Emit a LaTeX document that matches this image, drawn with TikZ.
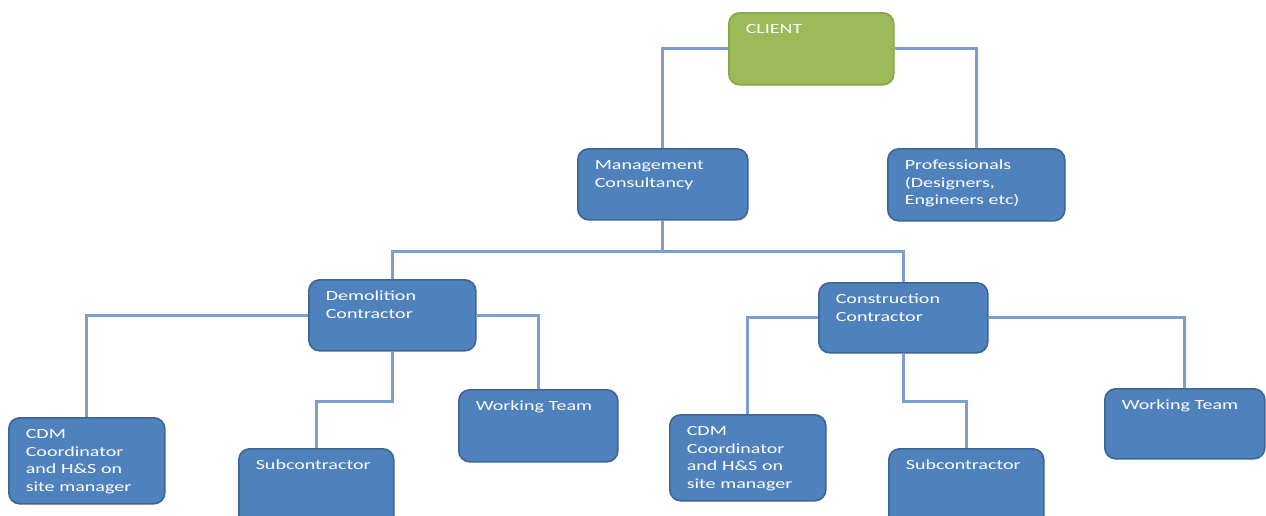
\documentclass[tikz,border=0pt]{standalone}
\usepackage{fontspec}
\newfontfamily\boxfont[FakeStretch=1.43]{Carlito}
\usetikzlibrary{backgrounds}
\definecolor{boxfill}{HTML}{4F81BD}
\definecolor{boxline}{HTML}{3C6494}
\definecolor{greenfill}{HTML}{9BBB59}
\definecolor{greenline}{HTML}{86A448}
\definecolor{connline}{HTML}{7C9ED0}
\tikzset{
  orgbox/.style={draw=boxline, fill=boxfill, line width=1.6pt, rounded corners=11pt,
    anchor=north west, inner xsep=17pt, inner ysep=0pt, text height=21pt,
    align=left, text=white, font=\boxfont\fontsize{14}{17.5}\selectfont},
  clientbox/.style={orgbox, draw=greenline, fill=greenfill},
  conn/.style={draw=connline, line width=3pt}
}
\begin{document}
\begin{tikzpicture}[x=1pt,y=-1pt]
\clip (0,0) rectangle (1266,515);
\useasboundingbox (0,0) rectangle (1266,515);
\node[clientbox, text width=131pt, text depth=51pt] (client) at (728,12) {CLIENT};
\node[orgbox, text width=136pt, text depth=50pt] (mc) at (577,148) {Management\\Consultancy};
\node[orgbox, text width=143pt, text depth=51pt] (prof) at (887,148) {Professionals\\(Designers,\\Engineers etc)};
\node[orgbox, text width=133pt, text depth=50pt] (demo) at (308,279) {Demolition\\Contractor};
\node[orgbox, text width=135pt, text depth=49pt] (cons) at (818,282) {Construction\\Contractor};
\node[orgbox, text width=122pt, text depth=65pt] (cdmL) at (8,417) {CDM\\Coordinator\\and H\&S on\\site manager};
\node[orgbox, text width=121pt, text depth=60pt] (subL) at (238,448) {Subcontractor};
\node[orgbox, text width=125pt, text depth=51pt] (wtL) at (458,389) {Working Team};
\node[orgbox, text width=122pt, text depth=65pt] (cdmR) at (669,414) {CDM\\Coordinator\\and H\&S on\\site manager};
\node[orgbox, text width=121pt, text depth=60pt] (subR) at (888,448) {Subcontractor};
\node[orgbox, text width=126pt, text depth=49pt] (wtR) at (1104,388) {Working Team};
\begin{scope}[on background layer]
\coordinate (bus) at ([yshift=-31pt]mc.south);
\coordinate (demobus) at ([yshift=-50pt]demo.south);
\coordinate (consbus) at ([yshift=-48pt]cons.south);
\draw[conn] (client.west) -| (mc.north);
\draw[conn] (client.east) -| (prof.north);
\draw[conn] (mc.south) -- (bus);
\draw[conn] (bus) -| (demo.north);
\draw[conn] (bus) -| (cons.north);
\draw[conn] (demo.west) -| (cdmL.north);
\draw[conn] (demo.east) -| (wtL.north);
\draw[conn] (demo.south) -- (demobus) -| (subL.north);
\draw[conn] (cons.west) -| (cdmR.north);
\draw[conn] (cons.east) -| (wtR.north);
\draw[conn] (cons.south) -- (consbus) -| (subR.north);
\end{scope}
\end{tikzpicture}
\end{document}
